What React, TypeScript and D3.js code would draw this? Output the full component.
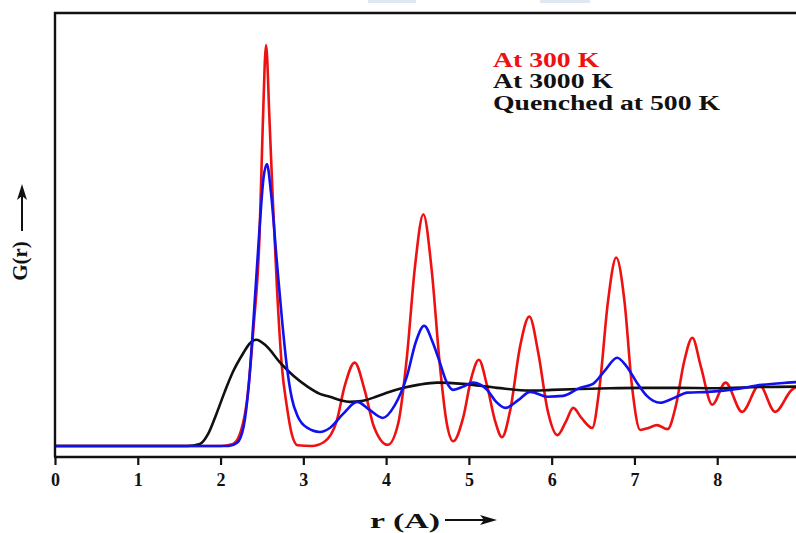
import React, { useEffect, useRef } from 'react';
import * as d3 from 'd3';

// G(r), r in Angstrom
const r300 = [0, 2.0, 2.15, 2.25, 2.32, 2.40, 2.47, 2.51, 2.55, 2.59, 2.63, 2.68, 2.74, 2.80, 2.86, 2.93, 3.1, 3.25, 3.4, 3.5, 3.62, 3.74, 3.85, 4.02, 4.15, 4.25, 4.35, 4.45, 4.55, 4.65, 4.73, 4.81, 4.93, 5.03, 5.12, 5.22, 5.32, 5.40, 5.5, 5.62, 5.73, 5.84, 5.95, 6.07, 6.17, 6.26, 6.36, 6.49, 6.58, 6.68, 6.78, 6.88, 6.97, 7.07, 7.17, 7.27, 7.40, 7.5, 7.6, 7.70, 7.8, 7.94, 8.10, 8.30, 8.51, 8.70, 8.9, 9.0];
const g300 = [0, 0, 0.05, 0.4, 1.15, 3.0, 5.2, 8.0, 10.0, 8.2, 6.2, 4.0, 2.0, 1.0, 0.3, 0.02, 0, 0.1, 0.6, 1.5, 2.08, 1.4, 0.5, 0.03, 0.6, 2.2, 4.5, 5.78, 4.4, 2.0, 0.6, 0.12, 0.7, 1.7, 2.15, 1.5, 0.6, 0.22, 0.9, 2.5, 3.23, 2.3, 0.9, 0.27, 0.6, 0.95, 0.7, 0.45, 1.5, 3.6, 4.7, 3.6, 1.5, 0.4, 0.45, 0.52, 0.42, 1.0, 2.1, 2.7, 2.0, 1.03, 1.58, 0.85, 1.52, 0.85, 1.4, 1.5];

const r3000 = [0, 1.6, 1.75, 1.85, 1.95, 2.05, 2.15, 2.27, 2.35, 2.43, 2.55, 2.72, 2.88, 3.05, 3.2, 3.32, 3.45, 3.56, 3.7, 3.84, 4.0, 4.21, 4.4, 4.62, 4.93, 5.34, 5.74, 6.0, 6.34, 6.7, 7.07, 7.5, 8.0, 8.5, 9.0];
const g3000 = [0, 0, 0.05, 0.3, 0.8, 1.35, 1.85, 2.3, 2.55, 2.65, 2.5, 2.08, 1.75, 1.48, 1.3, 1.23, 1.14, 1.1, 1.12, 1.2, 1.32, 1.45, 1.53, 1.58, 1.55, 1.45, 1.38, 1.4, 1.42, 1.44, 1.45, 1.45, 1.44, 1.47, 1.48];

const rQuench = [0, 2.1, 2.2, 2.28, 2.34, 2.40, 2.47, 2.52, 2.56, 2.61, 2.68, 2.74, 2.80, 2.86, 2.93, 3.05, 3.2, 3.32, 3.48, 3.65, 3.8, 3.96, 4.1, 4.25, 4.36, 4.46, 4.56, 4.65, 4.73, 4.81, 4.93, 5.05, 5.22, 5.33, 5.44, 5.6, 5.74, 5.95, 6.14, 6.34, 6.5, 6.65, 6.79, 6.9, 7.03, 7.15, 7.31, 7.48, 7.64, 7.9, 8.24, 8.52, 8.85, 9.0];
const gQuench = [0, 0, 0.08, 0.5, 1.5, 3.2, 5.4, 6.7, 7.03, 6.3, 4.6, 3.2, 2.0, 1.2, 0.75, 0.45, 0.35, 0.45, 0.8, 1.1, 0.9, 0.7, 1.0, 1.73, 2.6, 3.0, 2.6, 2.08, 1.6, 1.4, 1.48, 1.58, 1.4, 1.1, 0.95, 1.15, 1.35, 1.23, 1.25, 1.45, 1.55, 1.9, 2.2, 2.0, 1.58, 1.25, 1.08, 1.2, 1.33, 1.35, 1.42, 1.52, 1.58, 1.6];

const xTicks = [0, 1, 2, 3, 4, 5, 6, 7, 8, 9];
const legendLabels = ['At 300 K', 'At 3000 K', 'Quenched at 500 K'];
const legendColors = ['#ee1111', '#111111', '#111111'];

const W = 796;
const H = 533;
const left = 55;
const top = 13;
const axisY = 457;

const App = () => {
  const axisRef = useRef<SVGGElement>(null);

  const x = d3.scaleLinear().domain([0, 9]).range([left, 800]);
  const y = d3.scaleLinear().domain([0, 10]).range([446, 45]);

  const line = d3.line<[number, number]>()
    .x(d => x(d[0]))
    .y(d => y(d[1]))
    .curve(d3.curveMonotoneX);

  const zip = (rs: number[], gs: number[]) => rs.map((r, i) => [r, gs[i]] as [number, number]);

  useEffect(() => {
    const g = d3.select(axisRef.current);
    g.selectAll('*').remove();
    g.call(d3.axisBottom(x).tickValues(xTicks).tickSize(8).tickPadding(8).tickFormat(d3.format('d')));
    g.select('.domain').remove();
    g.selectAll('.tick line').attr('stroke', '#111').attr('stroke-width', 2.2);
    g.selectAll('.tick text')
      .attr('fill', '#111')
      .style('font-family', '"Liberation Serif", "Times New Roman", serif')
      .style('font-weight', 'bold')
      .style('font-size', '18px');
  }, []);

  const series = [
    { d: zip(r300, g300), color: '#ee1111' },
    { d: zip(r3000, g3000), color: '#111111' },
    { d: zip(rQuench, gQuench), color: '#1111ee' },
  ];

  const serif = '"Liberation Serif", "Times New Roman", serif';

  return (
    <svg width={W} height={H} style={{ position: 'absolute', left: 0, top: 0, background: '#fff' }}>
      <defs>
        <clipPath id="plot">
          <rect x={left} y={top} width={W - left} height={axisY - top} />
        </clipPath>
      </defs>
      <rect x={368} y={0} width={48} height={3} fill="#dfe8f0" />
      <rect x={540} y={0} width={50} height={3} fill="#dfe8f0" />

      <g clipPath="url(#plot)" fill="none" strokeWidth={2.6} strokeLinejoin="round">
        {series.map((s, i) => (
          <path key={i} d={line(s.d) || ''} stroke={s.color} />
        ))}
      </g>

      {/* frame */}
      <path d={`M${left},${axisY} V${top} H${W}`} fill="none" stroke="#111" strokeWidth={2.4} />
      <line x1={left - 1} x2={W} y1={axisY} y2={axisY} stroke="#111" strokeWidth={2.4} />
      <g ref={axisRef} transform={`translate(0,${axisY})`} />

      {/* legend */}
      <g transform="translate(493,0) scale(1.32,1)" fontFamily={serif} fontWeight="bold" fontSize={21}>
        {legendLabels.map((t, i) => (
          <text key={t} x={0} y={67 + i * 21.5} fill={legendColors[i]}>{t}</text>
        ))}
      </g>

      {/* x label */}
      <text x={370} y={528} fontFamily={serif} fontWeight="bold" fontSize={22} textLength={70} lengthAdjust="spacingAndGlyphs" fill="#111">r (A)</text>
      <line x1={445} x2={490} y1={520} y2={520} stroke="#111" strokeWidth={2} />
      <path d="M480,515 L497,520 L480,525 L484,520 Z" fill="#111" />

      {/* y label */}
      <text transform="translate(27,261) rotate(-90)" textAnchor="middle" fontFamily={serif} fontWeight="bold" fontSize={21} fill="#111">G(r)</text>
      <line x1={22} x2={22} y1={231} y2={192} stroke="#111" strokeWidth={2} />
      <path d="M17,200 L22,184 L27,200 L22,196 Z" fill="#111" />
    </svg>
  );
};

export default App;
